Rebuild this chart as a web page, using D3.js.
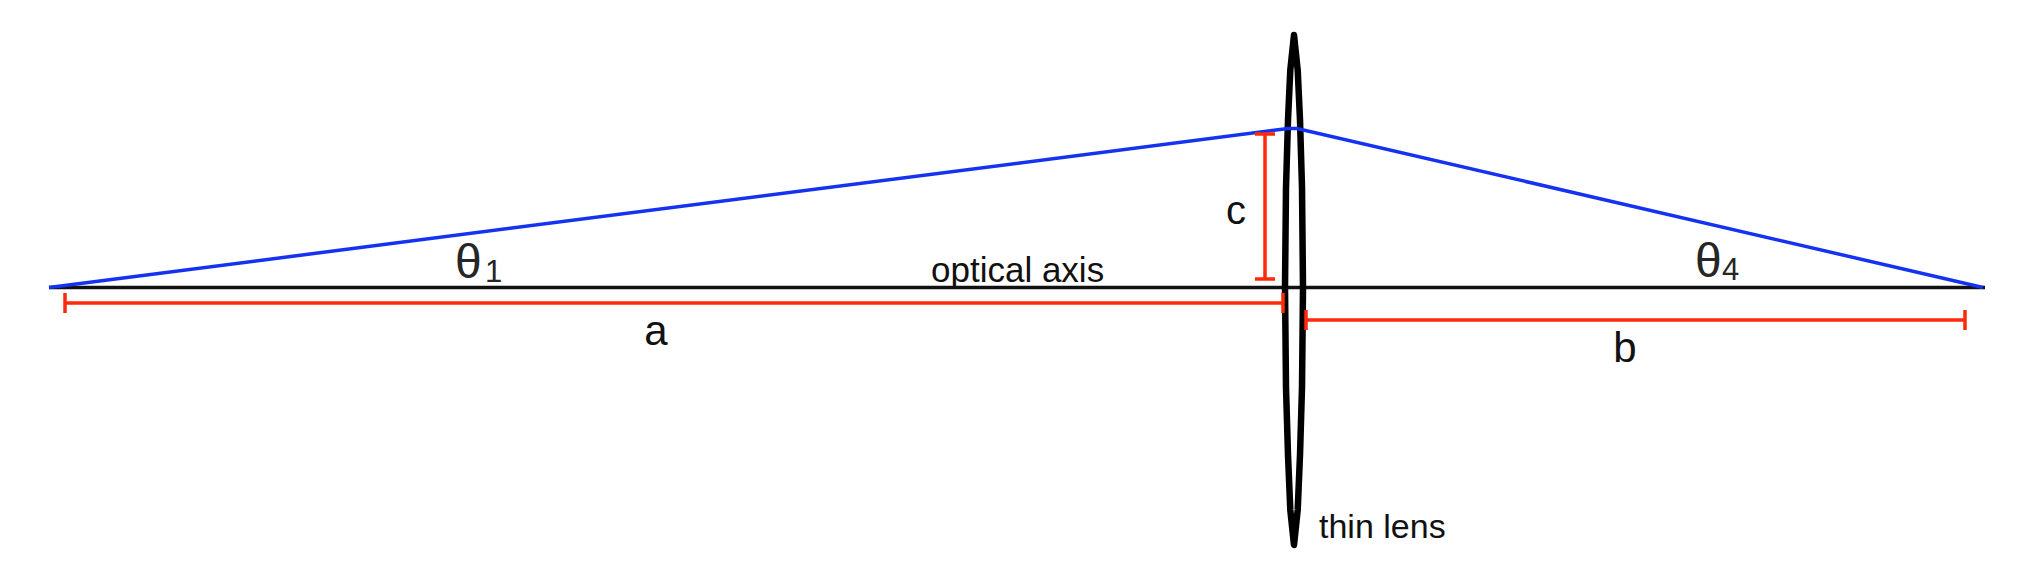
<!DOCTYPE html>
<html>
<head>
<meta charset="utf-8">
<script src="https://cdn.jsdelivr.net/npm/d3@7"></script>
<style>
    body { margin: 0; background: white; }
    svg { display: block; }
    text { font-family: "Liberation Sans", Arial, Helvetica, sans-serif; }
</style>
</head>
<body>
<div id="canvas_lens"></div>
<script>
// diagram units: lens centre at x = 0, optical axis at y = 0, y up
const axisEnds = [-124.5, 69.1];

const rayPoints = [[-124.5, 0], [-0.6, 15.9], [0.3, 15.9], [68.9, 0]];

// [y, half width] of the lens outline, top tip to bottom tip
const lensProfile = [[25.25, 0], [21.75, 0.37], [16.75, 0.6], [10, 0.8], [0, 0.9],
                     [-10, 0.8], [-16.75, 0.6], [-22.25, 0.37], [-25.75, 0]];

// dimension bars: horizontal ones [x0, x1, y], vertical ones [x, y0, y1]
const dimsH = [[-122.9, -1.1, -1.55], [1.2, 67.1, -3.25]];
const dimsV = [[-2.9, 15.35, 0.85]];

const labels = [
    { text: 'θ', x: -83.9, y: 0.95, size: 48, color: '#262626' },
    { text: '1', x: -80.9, y: 0.55, size: 31, color: '#262626' },
    { text: 'θ', x: 40.1, y: 1.05, size: 48, color: '#262626' },
    { text: '4', x: 42.8, y: 0.75, size: 31, color: '#262626' },
    { text: 'optical axis', x: -36.3, y: 0.55, size: 35, color: '#111' },
    { text: 'a', x: -63.8, y: -5.75, size: 42, color: '#111', anchor: 'middle' },
    { text: 'b', x: 33.1, y: -7.45, size: 42, color: '#111', anchor: 'middle' },
    { text: 'c', x: -5.8, y: 6.35, size: 40, color: '#111', anchor: 'middle' },
    { text: 'thin lens', x: 2.5, y: -25.05, size: 34, color: '#111' }
];

const W = 2029, H = 575;
const tick = 1.0;

const x = d3.scaleLinear().domain([-129.4, 73.5]).range([0, W]);
const y = d3.scaleLinear().domain([-28.75, 28.75]).range([H, 0]);

const svg = d3.select('#canvas_lens').append('svg')
    .attr('width', W)
    .attr('height', H);

svg.append('rect')
    .attr('width', W)
    .attr('height', H)
    .style('fill', 'white');

const line = d3.line().x(d => x(d[0])).y(d => y(d[1]));

// optical axis
svg.append('line')
    .attr('x1', x(axisEnds[0])).attr('x2', x(axisEnds[1]))
    .attr('y1', y(0)).attr('y2', y(0))
    .style('stroke', '#111')
    .style('stroke-width', 3.5);

// lens: right side down, left side back up
const outline = lensProfile.map(d => [d[1], d[0]])
    .concat(lensProfile.slice(1, -1).reverse().map(d => [-d[1], d[0]]));

svg.append('path')
    .attr('d', d3.line().x(d => x(d[0])).y(d => y(d[1])).curve(d3.curveLinearClosed)(outline))
    .style('fill', 'none')
    .style('stroke', 'black')
    .style('stroke-width', 6.5)
    .style('stroke-linejoin', 'round');

// ray
svg.append('path')
    .attr('d', line(rayPoints))
    .style('fill', 'none')
    .style('stroke', '#1432f0')
    .style('stroke-width', 3.5);

// dimension bars
const dims = svg.append('g')
    .style('stroke', '#ff2a0a')
    .style('stroke-width', 3.5)
    .style('fill', 'none');

dims.selectAll('path.h')
    .data(dimsH)
    .enter()
    .append('path')
        .attr('class', 'h')
        .attr('d', d => line([[d[0], d[2]], [d[1], d[2]]]) +
                        line([[d[0], d[2] - tick], [d[0], d[2] + tick]]) +
                        line([[d[1], d[2] - tick], [d[1], d[2] + tick]]));

dims.selectAll('path.v')
    .data(dimsV)
    .enter()
    .append('path')
        .attr('class', 'v')
        .attr('d', d => line([[d[0], d[1]], [d[0], d[2]]]) +
                        line([[d[0] - tick, d[1]], [d[0] + tick, d[1]]]) +
                        line([[d[0] - tick, d[2]], [d[0] + tick, d[2]]]));

// labels
svg.selectAll('text')
    .data(labels)
    .enter()
    .append('text')
        .attr('x', d => x(d.x))
        .attr('y', d => y(d.y))
        .attr('text-anchor', d => d.anchor || 'start')
        .style('font-size', d => d.size + 'px')
        .style('fill', d => d.color)
        .text(d => d.text);
</script>
</body>
</html>
